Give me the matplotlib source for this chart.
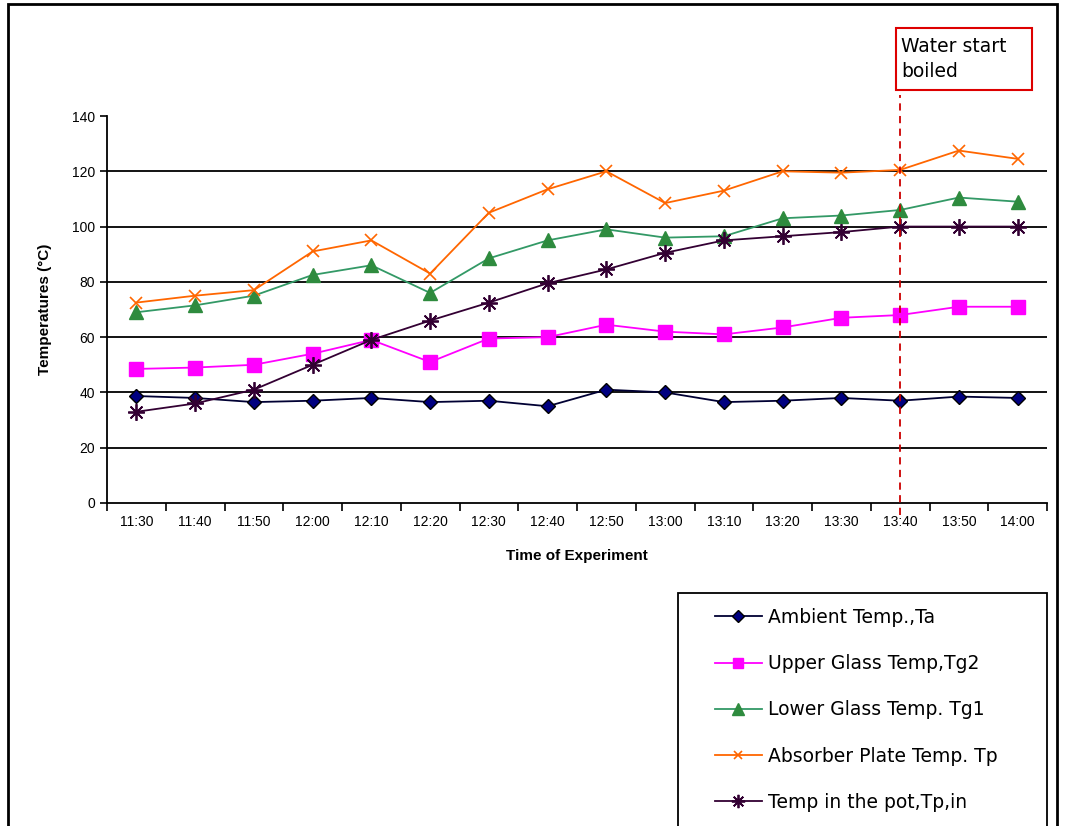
import numpy as np
from matplotlib import pyplot as plt
from matplotlib.patches import Rectangle

plt.rcParams['font.family'] = ['Liberation Sans', 'DejaVu Sans']

times = ["11:30", "11:40", "11:50", "12:00", "12:10", "12:20", "12:30", "12:40",
         "12:50", "13:00", "13:10", "13:20", "13:30", "13:40", "13:50", "14:00"]
ambient = [38.7, 38, 36.5, 37, 38, 36.5, 37, 35, 41, 40, 36.5, 37, 38, 37, 38.5, 38]
upper_glass = [48.5, 49, 50, 54, 59, 51, 59.5, 60, 64.5, 62, 61, 63.5, 67, 68, 71, 71]
lower_glass = [69, 71.5, 75, 82.5, 86, 76, 88.5, 95, 99, 96, 96.5, 103, 104, 106, 110.5, 109]
absorber = [72.5, 75, 77, 91, 95, 83, 105, 113.5, 120, 108.5, 113, 120, 119.5, 120.5, 127.5, 124.5]
pot = [33, 36, 41, 50, 59, 66, 72.5, 79.5, 84.5, 90.5, 95, 96.5, 98, 100, 100, 100]
boil_idx = 13  # 13:40

W, H = 1066, 826
fig = plt.figure(figsize=(W/100, H/100), dpi=100)
ax = fig.add_axes([107/W, 1-503/H, (1047-107)/W, (503-116)/H])

x = np.arange(len(times))
ax.plot(x, ambient, color="#000033", lw=1.3, marker="D", ms=7.5, mfc="#000080", mec="#000000",
        label="Ambient Temp.,Ta", zorder=5)
ax.plot(x, upper_glass, color="#ff00ff", lw=1.3, marker="s", ms=9.5, mfc="#ff00ff", mec="#ff00ff",
        label="Upper Glass Temp,Tg2", zorder=5)
ax.plot(x, lower_glass, color="#339966", lw=1.3, marker="^", ms=10, mfc="#2e8b3e", mec="#2e8b3e",
        label="Lower Glass Temp. Tg1", zorder=5)
ax.plot(x, absorber, color="#ff6600", lw=1.3, marker="x", ms=8, mew=1.2, mec="#ff6600",
        label="Absorber Plate Temp. Tp", zorder=5)
ax.plot(x, pot, color="#330033", lw=1.3, marker=(8, 2, 0), ms=12, mew=1.3, mec="#330033",
        label="Temp in the pot,Tp,in", zorder=5)

ax.set_ylim(0, 140)
ax.set_xlim(-0.5, len(times) - 0.5)
ax.set_yticks(np.arange(0, 141, 20))
ax.tick_params(axis="y", labelsize=10, direction="out", length=5, width=1.2)
for yv in range(20, 140, 20):
    ax.axhline(yv, color="black", lw=1.3, zorder=1)

ax.set_xticks(np.arange(-0.5, len(times)), labels=[])
ax.set_xticks(x, labels=times, minor=True)
ax.tick_params(axis="x", which="major", direction="out", length=6, width=1.2)
ax.tick_params(axis="x", which="minor", length=0, labelsize=10, pad=9)

for s in ["top", "right"]:
    ax.spines[s].set_visible(False)
for s in ["left", "bottom"]:
    ax.spines[s].set_linewidth(1.3)

ax.set_ylabel("Temperatures (\u00b0C)", fontsize=11, fontweight="bold", labelpad=14)
ax.set_xlabel("Time of Experiment", fontsize=11, fontweight="bold", labelpad=14)

# boiling marker
ax.axvline(boil_idx, ymin=-0.03, ymax=1.055, color="#cc0000", lw=1.3, ls=(0, (4, 3)),
           clip_on=False, zorder=6)
fig.patches.append(Rectangle((896/W, 1-90/H), (1032-896)/W, (90-28)/H, transform=fig.transFigure,
                             fill=True, fc="white", ec="#dd0000", lw=1.5))
fig.text(901/W, 1-59/H, "Water start\nboiled", fontsize=13.5, va="center", ha="left",
         linespacing=1.4, family="DejaVu Sans")

# legend with its own frame (bottom runs off the figure)
fig.patches.append(Rectangle((678/W, -0.1), (1047-678)/W, 0.1 + 1-593/H, transform=fig.transFigure,
                             fill=True, fc="white", ec="black", lw=1.3))
leg = fig.legend(loc="upper left", bbox_to_anchor=(715/W, 1-608/H),
                 prop={"family": "DejaVu Sans", "size": 13.5},
                 frameon=False, labelspacing=1.45, handlelength=2.5,
                 handletextpad=0.35, borderpad=0, borderaxespad=0, markerscale=0.8)

# outer chart border
fig.patches.append(Rectangle((8/W, -0.1), (1057-8)/W, 1.1 - 4/H, transform=fig.transFigure,
                             fill=False, ec="black", lw=2))

fig.savefig("out.png", dpi=100)
